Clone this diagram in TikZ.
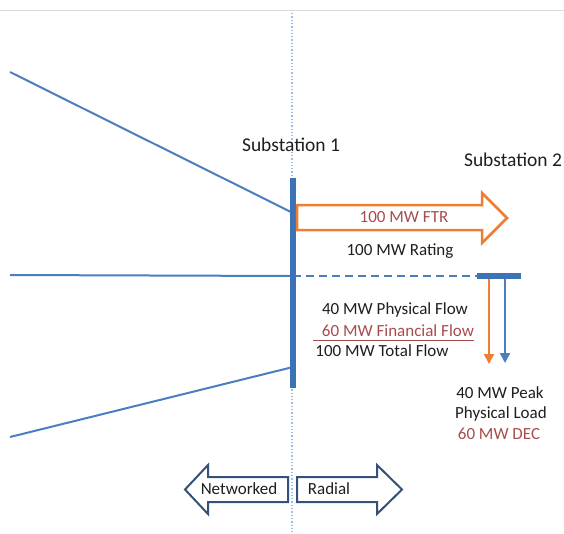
\documentclass[tikz,border=0pt]{standalone}
\usepackage{fontspec}
\setmainfont{Carlito}
\usetikzlibrary{arrows.meta}
\definecolor{lineblue}{HTML}{4A7EBF}
\definecolor{busblue}{HTML}{3C73B6}
\definecolor{dotblue}{HTML}{9DBCE0}
\definecolor{ftrorange}{HTML}{ED7D31}
\definecolor{navy}{HTML}{34517A}
\definecolor{finred}{HTML}{A84B4D}
\definecolor{txt}{HTML}{1E1E1E}
\tikzset{
  feeder/.style = {draw = lineblue, line width = 2pt},
  bus/.style = {fill = busblue, draw = none},
  lbl/.style = {text = txt, font = \fontsize{17}{20}\selectfont, inner sep = 0pt},
  redlbl/.style = {lbl, text = finred},
  sublbl/.style = {lbl, font = \fontsize{19.5}{22}\selectfont},
  blockarrow/.style = {draw = navy, line width = 2pt, line join = miter},
  loadarrow/.style = {line width = 2pt, -{Triangle[width=10pt,length=10pt]}}
}
\begin{document}
\begin{tikzpicture}[x = 1pt, y = -1pt]
        \useasboundingbox (0,0) rectangle (564,533);
        \draw[color = black!15, line width = 1pt] (0,10) -- (564,10);
        \draw[color = dotblue, dotted, line width = 1.3pt] (292,13) -- (292,533);

        % feeders into substation 1
        \coordinate (topend) at (10,72);
        \coordinate (midend) at (10,275);
        \coordinate (botend) at (10,437);
        \coordinate (bustop) at (293,213);
        \coordinate (busmid) at (293,276);
        \coordinate (busbot) at (293,367);
        \draw[feeder] (topend) -- (bustop);
        \draw[feeder] (midend) -- (busmid);
        \draw[feeder] (botend) -- (busbot);

        \coordinate (sub2left) at (477,276);
        \draw[feeder, dash pattern = on 8pt off 5pt] (busmid) -- (sub2left);

        \fill[bus] (290,178) rectangle (296,388);
        \fill[bus] (477,273) rectangle (521,279);

        \node[sublbl] (sub1) at (291,145) {Substation 1};
        \node[sublbl] (sub2) at (513,160) {Substation 2};

        % FTR arrow
        \draw[draw = ftrorange, line width = 2.5pt, line join = miter]
            (297,205) -- (482,205) -- (482,193) -- (507,218) -- (482,243) -- (482,230) -- (297,230) -- cycle;
        \node[redlbl] (ftr) at (404,217) {100 MW FTR};
        \node[lbl] (rating) at (400,251) {100 MW Rating};

        \node[lbl] (physflow) at (395,310) {40 MW Physical Flow};
        \node[redlbl] (finflow) at (398,331) {60 MW Financial Flow};
        \draw[color = finred, line width = 0.8pt] (313,340) -- (474,340);
        \node[lbl] (totflow) at (382,351) {100 MW Total Flow};

        % loads at substation 2
        \coordinate (ldorange) at (489,279);
        \coordinate (ldblue) at (505,279);
        \coordinate (tiporange) at (489,364);
        \coordinate (tipblue) at (505,363);
        \draw[loadarrow, color = ftrorange] (ldorange) -- (tiporange);
        \draw[loadarrow, color = lineblue] (ldblue) -- (tipblue);

        \node[lbl] (peak) at (500,393) {40 MW Peak};
        \node[lbl] (physload) at (501,414) {Physical Load};
        \node[redlbl] (dec) at (499,434) {60 MW DEC};

        % networked / radial
        \draw[blockarrow] (288,477) -- (208,477) -- (208,465) -- (185,489.5) -- (208,514) -- (208,502) -- (288,502) -- cycle;
        \node[lbl] (networked) at (239,489) {Networked};
        \draw[blockarrow] (297,477) -- (377,477) -- (377,465) -- (402,489.5) -- (377,514) -- (377,502) -- (297,502) -- cycle;
        \node[lbl] (radial) at (329,489) {Radial};
    \end{tikzpicture}
\end{document}
